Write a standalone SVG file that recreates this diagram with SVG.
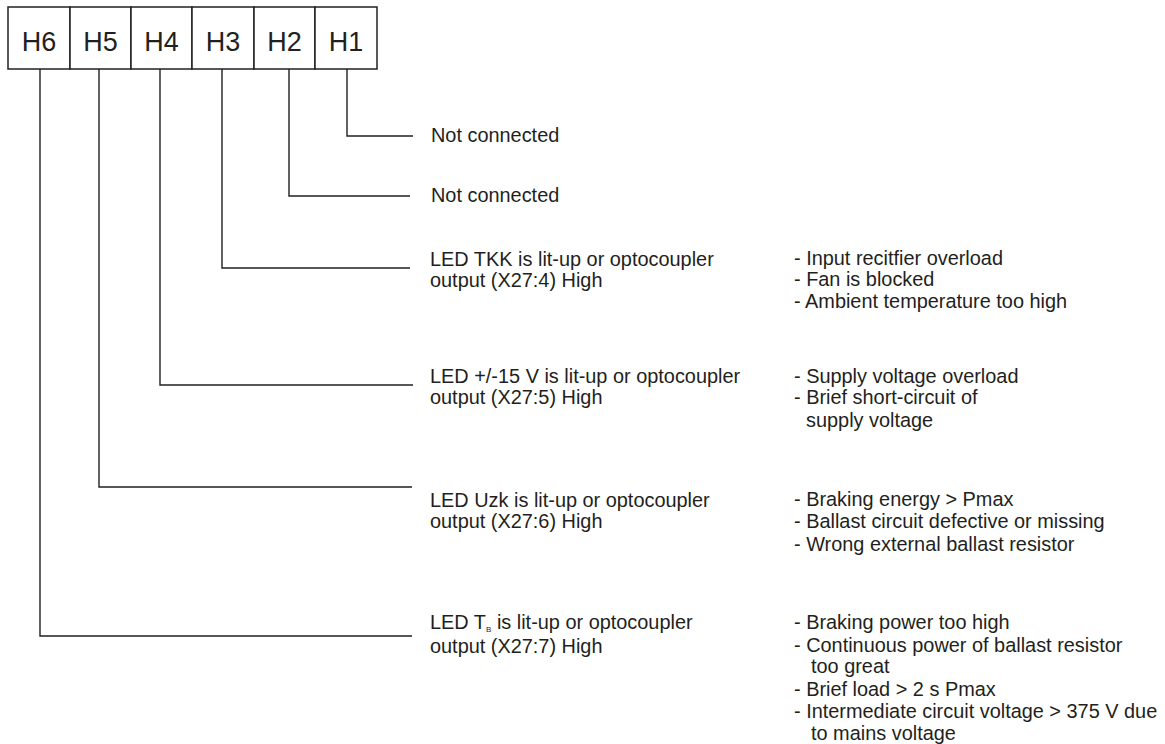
<svg xmlns="http://www.w3.org/2000/svg" width="1165" height="744" viewBox="0 0 1165 744">
<style>
.bg{fill:#fff}
.box{fill:#fff;stroke:#231f20;stroke-width:1.5}
.lbl{font-family:"Liberation Sans",Arial,sans-serif;font-size:27px;fill:#231f20;text-anchor:middle}
.t{font-family:"Liberation Sans",Arial,sans-serif;font-size:19.9px;fill:#231f20}
.sub{font-size:8px}
.ln{fill:none;stroke:#231f20;stroke-width:1.4}
</style>
<rect class="bg" width="1165" height="744"/>
<g id="H6"><rect class="box" x="8" y="7" width="62" height="62"/><text class="lbl" x="39" y="51">H6</text></g>
<g id="H5"><rect class="box" x="70" y="7" width="61" height="62"/><text class="lbl" x="100.5" y="51">H5</text></g>
<g id="H4"><rect class="box" x="131" y="7" width="61" height="62"/><text class="lbl" x="161.5" y="51">H4</text></g>
<g id="H3"><rect class="box" x="192" y="7" width="62" height="62"/><text class="lbl" x="223" y="51">H3</text></g>
<g id="H2"><rect class="box" x="254" y="7" width="61" height="62"/><text class="lbl" x="284.5" y="51">H2</text></g>
<g id="H1"><rect class="box" x="315" y="7" width="62" height="62"/><text class="lbl" x="346" y="51">H1</text></g>
<g id="connectors">
<path class="ln" d="M347 69V136H413"/>
<path class="ln" d="M289 69V196H410"/>
<path class="ln" d="M222 69V268H410"/>
<path class="ln" d="M160 69V385H413"/>
<path class="ln" d="M99 69V487H412"/>
<path class="ln" d="M40 69V636H412"/>
</g>
<g id="text-H1"><text class="t" x="431" y="142">Not connected</text></g>
<g id="text-H2"><text class="t" x="431" y="202">Not connected</text></g>
<g id="text-H3">
<text class="t" x="430" y="266">LED TKK is lit-up or optocoupler</text>
<text class="t" x="430" y="287">output (X27:4) High</text>
<text class="t" x="794" y="265">- Input recitfier overload</text>
<text class="t" x="794" y="286">- Fan is blocked</text>
<text class="t" x="794" y="308">- Ambient temperature too high</text>
</g>
<g id="text-H4">
<text class="t" x="430" y="383">LED +/-15 V is lit-up or optocoupler</text>
<text class="t" x="430" y="404">output (X27:5) High</text>
<text class="t" x="794" y="383">- Supply voltage overload</text>
<text class="t" x="794" y="404">- Brief short-circuit of</text>
<text class="t" x="806" y="427">supply voltage</text>
</g>
<g id="text-H5">
<text class="t" x="430" y="507">LED Uzk is lit-up or optocoupler</text>
<text class="t" x="430" y="528">output (X27:6) High</text>
<text class="t" x="794" y="506">- Braking energy &gt; Pmax</text>
<text class="t" x="794" y="528">- Ballast circuit defective or missing</text>
<text class="t" x="794" y="551">- Wrong external ballast resistor</text>
</g>
<g id="text-H6">
<text class="t" x="430" y="629">LED T<tspan class="sub" dy="3">B</tspan><tspan dy="-3"> is lit-up or optocoupler</tspan></text>
<text class="t" x="430" y="653">output (X27:7) High</text>
<text class="t" x="794" y="629">- Braking power too high</text>
<text class="t" x="794" y="652">- Continuous power of ballast resistor</text>
<text class="t" x="811" y="673">too great</text>
<text class="t" x="794" y="696">- Brief load &gt; 2 s Pmax</text>
<text class="t" x="794" y="718">- Intermediate circuit voltage &gt; 375 V due</text>
<text class="t" x="811" y="740">to mains voltage</text>
</g>
</svg>
